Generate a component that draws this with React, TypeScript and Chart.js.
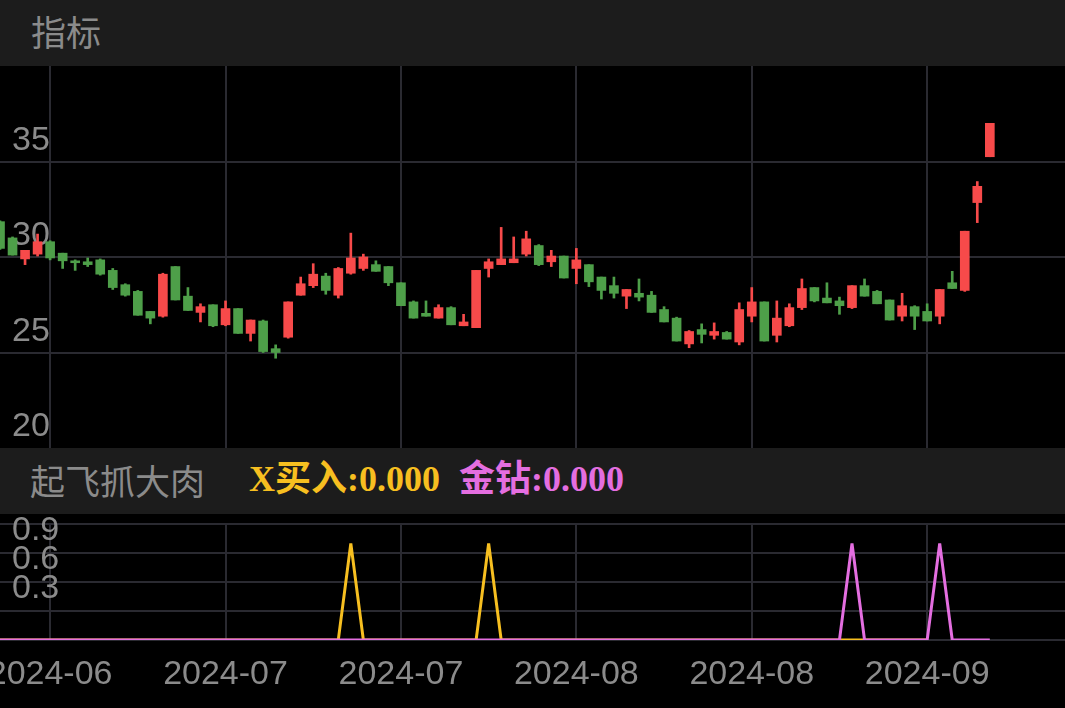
import React, { useEffect, useRef } from 'react';
import { Chart, registerables } from 'chart.js';

Chart.register(...registerables);

// ---- data ----
const OPEN = [
  31.85, 31.0, 29.9, 30.15, 30.8, 30.2, 29.8, 29.75, 29.85, 29.3,
  28.55, 28.2, 27.15, 26.9, 29.5, 27.95, 27.1, 27.5, 26.45, 27.3,
  26.0, 26.65, 25.2, 25.8, 28.0, 28.5, 29.0, 28.0, 29.15, 29.4,
  29.6, 29.5, 28.65, 27.65, 27.05, 26.8, 27.35, 26.4, 26.3, 29.4,
  29.6, 29.7, 30.15, 30.6, 29.75, 30.05, 29.4, 29.6, 28.95, 28.5,
  27.95, 28.1, 28.0, 27.25, 26.8, 25.45, 26.2, 25.9, 26.05, 25.55,
  26.9, 27.65, 25.9, 26.4, 27.35, 28.4, 27.85, 27.7, 27.35, 28.5,
  28.2, 27.75, 26.9, 27.4, 27.15, 26.9, 28.65, 28.25, 32.85, 35.25,
];
const HIGH = [
  31.9, 31.05, 30.35, 31.2, 30.85, 30.2, 29.85, 29.95, 29.9, 29.4,
  28.6, 28.25, 27.15, 29.15, 29.5, 28.4, 27.55, 27.5, 27.7, 27.3,
  26.7, 26.7, 25.4, 27.65, 28.95, 29.65, 29.15, 29.45, 31.25, 30.15,
  29.8, 29.5, 28.65, 27.7, 27.7, 27.5, 27.4, 27.0, 29.3, 29.9,
  31.55, 31.05, 31.35, 30.65, 30.35, 30.05, 30.45, 29.6, 28.95, 28.95,
  28.3, 28.85, 28.2, 27.4, 26.85, 26.15, 26.5, 26.55, 26.1, 27.6,
  28.4, 27.65, 27.7, 27.55, 28.85, 28.4, 28.65, 27.9, 28.5, 28.85,
  28.25, 27.75, 28.1, 27.45, 27.55, 28.3, 29.25, 31.35, 33.95, 37.0,
];
const LOW = [
  30.4, 30.1, 29.6, 30.05, 29.85, 29.4, 29.3, 29.5, 29.05, 28.3,
  27.95, 26.95, 26.5, 26.85, 27.75, 27.2, 26.6, 26.35, 26.4, 26.0,
  25.6, 25.0, 24.7, 25.75, 28.0, 28.4, 28.05, 27.85, 29.1, 29.3,
  29.25, 28.5, 27.45, 26.8, 26.9, 26.8, 26.45, 26.4, 26.3, 28.95,
  29.6, 29.7, 30.05, 29.55, 29.5, 28.9, 28.6, 28.45, 27.8, 27.85,
  27.3, 27.7, 27.1, 26.6, 25.6, 25.25, 25.5, 25.7, 25.7, 25.4,
  26.6, 25.6, 25.55, 26.35, 27.25, 27.65, 27.6, 27.0, 27.3, 27.95,
  27.55, 26.7, 26.65, 26.2, 26.65, 26.5, 28.35, 28.2, 31.8, 35.25,
];
const CLOSE = [
  30.45, 30.1, 30.35, 30.8, 29.95, 29.8, 29.7, 29.6, 29.1, 28.4,
  28.0, 26.95, 26.8, 29.1, 27.75, 27.2, 27.4, 26.4, 27.3, 26.0,
  26.7, 25.05, 25.0, 27.65, 28.6, 29.1, 28.25, 29.4, 29.95, 30.0,
  29.25, 28.65, 27.45, 26.8, 26.9, 27.35, 26.45, 26.6, 29.3, 29.75,
  29.9, 29.9, 30.95, 29.6, 30.05, 28.9, 29.85, 28.7, 28.25, 28.1,
  28.3, 27.9, 27.1, 26.6, 25.6, 26.1, 25.95, 26.1, 25.7, 27.25,
  27.65, 25.6, 26.8, 27.35, 28.35, 27.7, 27.6, 27.45, 28.5, 27.95,
  27.55, 26.7, 27.45, 26.9, 26.65, 28.3, 28.35, 31.35, 33.7, 37.0,
];
// X买入 signal
const X_BUY = [
  0, 0, 0, 0, 0, 0, 0, 0, 0, 0,
  0, 0, 0, 0, 0, 0, 0, 0, 0, 0,
  0, 0, 0, 0, 0, 0, 0, 0, 1, 0,
  0, 0, 0, 0, 0, 0, 0, 0, 0, 1,
  0, 0, 0, 0, 0, 0, 0, 0, 0, 0,
  0, 0, 0, 0, 0, 0, 0, 0, 0, 0,
  0, 0, 0, 0, 0, 0, 0, 0, 0, 0,
  0, 0, 0, 0, 0,
];
// 金钻 signal
const GOLD_DIAMOND = [
  0, 0, 0, 0, 0, 0, 0, 0, 0, 0,
  0, 0, 0, 0, 0, 0, 0, 0, 0, 0,
  0, 0, 0, 0, 0, 0, 0, 0, 0, 0,
  0, 0, 0, 0, 0, 0, 0, 0, 0, 0,
  0, 0, 0, 0, 0, 0, 0, 0, 0, 0,
  0, 0, 0, 0, 0, 0, 0, 0, 0, 0,
  0, 0, 0, 0, 0, 0, 0, 0, 1, 0,
  0, 0, 0, 0, 0, 1, 0, 0, 0, 0,
];
const SLOT_COUNT = 86;
const TICK_INDEX = [4, 18, 32, 46, 60, 74];
const TICK_LABELS = ['2024-06', '2024-07', '2024-07', '2024-08', '2024-08', '2024-09'];
const PRICE_LABELS = [20, 25, 30, 35];
const SIGNAL_LABELS = [0.3, 0.6, 0.9];

// ---- style ----
const RED = '#f74a4a';
const GREEN = '#4e9f49';
const GRID = '#2a2a31';
const TEXT = '#8b8b8b';
const GOLD = '#f7bf20';
const PINK = '#e46ee0';
const HEADER_BG = '#1c1c1c';
const FONT = "'Liberation Sans', Arial, sans-serif";

const slotLabels: string[] = Array.from({ length: SLOT_COUNT }, (_, i) => {
  const k = TICK_INDEX.indexOf(i);
  return k >= 0 ? TICK_LABELS[k] : '';
});

function zeroPad(scale: any) {
  scale.paddingTop = 0;
  scale.paddingBottom = 0;
  scale.paddingLeft = 0;
  scale.paddingRight = 0;
}
function yFit(scale: any) {
  zeroPad(scale);
  scale.width = 0;
}
function xFitMain(scale: any) {
  zeroPad(scale);
  scale.height = 0;
}
function xFitInd(scale: any) {
  zeroPad(scale);
  scale.height = 68;
}

export default function App() {
  const mainRef = useRef<HTMLCanvasElement>(null);
  const indRef = useRef<HTMLCanvasElement>(null);

  useEffect(() => {
    const colors = OPEN.map((o, i) => (CLOSE[i] >= o ? RED : GREEN));
    const bodies = OPEN.map((o, i) => [Math.min(o, CLOSE[i]), Math.max(o, CLOSE[i])]);
    const wicks = LOW.map((l, i) => [l, HIGH[i]]);

    const main = new Chart(mainRef.current as HTMLCanvasElement, {
      type: 'bar',
      data: {
        labels: slotLabels,
        datasets: [
          { data: bodies as any, backgroundColor: colors, barThickness: 9, grouped: false, borderWidth: 0, minBarLength: 1 } as any,
          { data: wicks as any, backgroundColor: colors, barThickness: 2, grouped: false, borderWidth: 0 } as any,
        ],
      },
      options: {
        animation: false,
        responsive: false,
        devicePixelRatio: 1,
        layout: { padding: 0 },
        plugins: { legend: { display: false }, tooltip: { enabled: false } },
        scales: {
          x: {
            type: 'category',
            offset: false,
            grid: {
              offset: false,
              drawTicks: false,
              lineWidth: 2,
              color: (ctx: any) => (TICK_INDEX.includes(ctx.index) ? GRID : 'transparent'),
            },
            border: { display: false },
            ticks: { display: false, autoSkip: false },
            afterFit: xFitMain,
          } as any,
          y: {
            type: 'linear',
            min: 20,
            max: 40,
            grid: {
              drawTicks: false,
              lineWidth: 2,
              color: (ctx: any) => (ctx.tick && [25, 30, 35].includes(ctx.tick.value) ? GRID : 'transparent'),
            },
            border: { display: false },
            ticks: {
              stepSize: 5,
              autoSkip: false,
              mirror: true,
              padding: 12,
              labelOffset: -21,
              color: TEXT,
              font: { size: 34, family: FONT },
              callback: (v: any) => (PRICE_LABELS.includes(Number(v)) ? String(v) : ''),
            },
            afterFit: yFit,
          } as any,
        },
      },
    });

    const ind = new Chart(indRef.current as HTMLCanvasElement, {
      type: 'line',
      data: {
        labels: slotLabels,
        datasets: [
          { data: GOLD_DIAMOND, borderColor: PINK, borderWidth: 3, borderJoinStyle: 'bevel', pointRadius: 0, tension: 0, fill: false },
          { data: X_BUY, borderColor: GOLD, borderWidth: 3, borderJoinStyle: 'bevel', pointRadius: 0, tension: 0, fill: false },
        ],
      },
      options: {
        animation: false,
        responsive: false,
        devicePixelRatio: 1,
        layout: { padding: { top: 10, bottom: 0, left: 0, right: 0 } },
        plugins: { legend: { display: false }, tooltip: { enabled: false } },
        scales: {
          x: {
            type: 'category',
            offset: false,
            grid: {
              offset: false,
              drawTicks: false,
              lineWidth: 2,
              color: (ctx: any) => (TICK_INDEX.includes(ctx.index) ? GRID : 'transparent'),
            },
            border: { display: false },
            ticks: {
              autoSkip: false,
              maxRotation: 0,
              minRotation: 0,
              padding: 14,
              color: TEXT,
              font: { size: 34, family: FONT },
              callback: (_v: any, i: number) => slotLabels[i],
            },
            afterFit: xFitInd,
          } as any,
          y: {
            type: 'linear',
            min: 0,
            max: 1.2,
            grid: { drawTicks: false, lineWidth: 2, color: GRID },
            border: { display: false },
            ticks: {
              stepSize: 0.3,
              autoSkip: false,
              mirror: true,
              padding: 12,
              labelOffset: -22,
              color: TEXT,
              font: { size: 34, family: FONT },
              callback: (v: any) => {
                const n = Number(v);
                const hit = SIGNAL_LABELS.find((s) => Math.abs(s - n) < 1e-6);
                return hit !== undefined ? hit.toFixed(1) : '';
              },
            },
            afterFit: yFit,
          } as any,
        },
      },
    });

    return () => {
      main.destroy();
      ind.destroy();
    };
  }, []);

  const headerText: React.CSSProperties = {
    position: 'absolute',
    top: '50%',
    whiteSpace: 'nowrap',
    lineHeight: 1,
  };

  return (
    <div style={{ position: 'fixed', left: 0, top: 0, width: 1065, height: 708, background: '#000', overflow: 'hidden' }}>
      <div style={{ position: 'relative', height: 66, background: HEADER_BG }}>
        <span style={{ ...headerText, transform: 'translateY(calc(-50% - 3px))', left: 31, fontFamily: "'Noto Sans CJK SC', sans-serif", fontSize: 35, color: TEXT }}>指标</span>
      </div>
      <canvas ref={mainRef} width={1065} height={382} style={{ display: 'block', width: 1065, height: 382 }} />
      <div style={{ position: 'relative', height: 66, background: HEADER_BG }}>
        <span style={{ ...headerText, transform: 'translateY(calc(-50% - 2px))', left: 30, fontFamily: "'Noto Sans CJK SC', sans-serif", fontSize: 35, color: TEXT }}>起飞抓大肉</span>
        <span style={{ ...headerText, transform: 'translateY(calc(-50% - 2px))', left: 249, fontFamily: "'Liberation Serif', 'Noto Sans CJK SC', serif", fontWeight: 700, fontSize: 36, color: GOLD }}>X买入:0.000</span>
        <span style={{ ...headerText, transform: 'translateY(calc(-50% - 2px))', left: 459, fontFamily: "'Liberation Serif', 'Noto Sans CJK SC', serif", fontWeight: 700, fontSize: 36, color: PINK }}>金钻:0.000</span>
      </div>
      <canvas ref={indRef} width={1065} height={194} style={{ display: 'block', width: 1065, height: 194 }} />
    </div>
  );
}
